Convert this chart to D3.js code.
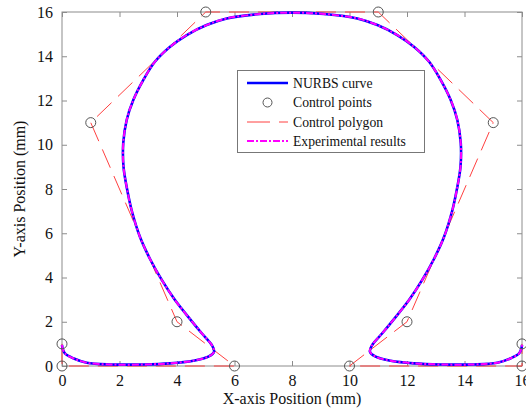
<!DOCTYPE html>
<html>
<head>
<meta charset="utf-8">
<script src="https://cdn.jsdelivr.net/npm/d3@7"></script>
<style>
  html, body { margin: 0; padding: 0; background: #fff; }
  svg { display: block; font-family: "Liberation Serif", "Times New Roman", serif; }
</style>
</head>
<body>
<svg id="chart" width="526" height="410"></svg>
<script>
// Control points of the NURBS profile (mm), in polygon order
const ctrlX = [0, 0, 6, 4, 1, 5, 11, 15, 12, 10, 16, 16];
const ctrlY = [1, 0, 0, 2, 11, 16, 16, 11, 2, 0, 0, 1];

// Sampled NURBS curve (mm)
const curveX = [0.00, 0.02, 0.10, 0.39, 0.86, 1.67, 2.83, 3.76, 4.57, 5.09, 5.29, 5.21, 4.86, 4.51, 3.93, 3.47, 3.08, 2.71, 2.42, 2.27, 2.14, 2.13, 2.25, 2.48, 2.83, 3.23, 3.76, 4.34, 5.03, 5.73, 6.89, 8.00,
                9.11, 10.27, 10.97, 11.66, 12.24, 12.77, 13.17, 13.52, 13.75, 13.87, 13.86, 13.73, 13.58, 13.29, 12.92, 12.53, 12.07, 11.49, 11.14, 10.79, 10.71, 10.91, 11.43, 12.24, 13.17, 14.33, 15.14, 15.61, 15.90, 15.98, 16.00];
const curveY = [0.95, 0.80, 0.57, 0.35, 0.15, 0.07, 0.07, 0.12, 0.24, 0.42, 0.65, 0.95, 1.48, 2.03, 2.98, 3.89, 4.79, 5.84, 7.05, 7.95, 9.00, 10.07, 11.12, 12.02, 12.93, 13.75, 14.43, 14.96, 15.41, 15.71, 15.91, 15.97,
                15.91, 15.71, 15.41, 14.96, 14.43, 13.75, 12.93, 12.02, 11.12, 10.07, 9.00, 7.95, 7.05, 5.84, 4.79, 3.89, 2.98, 2.03, 1.48, 0.95, 0.65, 0.42, 0.24, 0.12, 0.07, 0.07, 0.15, 0.35, 0.57, 0.80, 0.95];

// Measured profile from the experiment (mm)
const expX = [0.00, 0.02, 0.10, 0.39, 0.86, 1.67, 2.83, 3.76, 4.57, 5.09, 5.29, 5.21, 4.86, 4.51, 3.93, 3.47, 3.08, 2.71, 2.42, 2.27, 2.14, 2.13, 2.25, 2.48, 2.83, 3.23, 3.76, 4.34, 5.03, 5.73, 6.89, 8.00,
              9.11, 10.27, 10.97, 11.66, 12.24, 12.77, 13.17, 13.52, 13.75, 13.87, 13.86, 13.73, 13.58, 13.29, 12.92, 12.53, 12.07, 11.49, 11.14, 10.79, 10.71, 10.91, 11.43, 12.24, 13.17, 14.33, 15.14, 15.61, 15.90, 15.98, 16.00];
const expY = [0.95, 0.80, 0.57, 0.35, 0.15, 0.07, 0.07, 0.12, 0.24, 0.42, 0.65, 0.95, 1.48, 2.03, 2.98, 3.89, 4.79, 5.84, 7.05, 7.95, 9.00, 10.07, 11.12, 12.02, 12.93, 13.75, 14.43, 14.96, 15.41, 15.71, 15.91, 15.97,
              15.91, 15.71, 15.41, 14.96, 14.43, 13.75, 12.93, 12.02, 11.12, 10.07, 9.00, 7.95, 7.05, 5.84, 4.79, 3.89, 2.98, 2.03, 1.48, 0.95, 0.65, 0.42, 0.24, 0.12, 0.07, 0.07, 0.15, 0.35, 0.57, 0.80, 0.95];

const xTicks = [0, 2, 4, 6, 8, 10, 12, 14, 16];
const yTicks = [0, 2, 4, 6, 8, 10, 12, 14, 16];
const legendLabels = ["NURBS curve", "Control points", "Control polygon", "Experimental results"];

const W = 526, H = 410;
const margin = { left: 62, right: 4, top: 12, bottom: 44 };
const svg = d3.select("#chart");

const x = d3.scaleLinear().domain([0, 16]).range([margin.left, W - margin.right]);
const y = d3.scaleLinear().domain([0, 16]).range([H - margin.bottom, margin.top]);

const axisColor = "#8c8c8c";

// Axes with inward ticks, mirrored on top and right
function styleAxis(g, labels) {
  g.select(".domain").remove();
  g.selectAll(".tick line").attr("stroke", axisColor);
  g.selectAll(".tick text")
    .attr("fill", labels ? "#111" : "none")
    .style("font-size", "16px")
    .style("font-family", "'Liberation Serif', serif");
}
svg.append("g").attr("transform", `translate(0,${y(0)})`)
  .call(d3.axisBottom(x).tickValues(xTicks).tickSize(-5).tickPadding(9).tickFormat(d3.format("d")))
  .call(g => styleAxis(g, true));
svg.append("g").attr("transform", `translate(0,${y(16)})`)
  .call(d3.axisTop(x).tickValues(xTicks).tickSize(-5).tickFormat(""))
  .call(g => styleAxis(g, false));
svg.append("g").attr("transform", `translate(${x(0)},0)`)
  .call(d3.axisLeft(y).tickValues(yTicks).tickSize(-5).tickPadding(9).tickFormat(d3.format("d")))
  .call(g => styleAxis(g, true));
svg.append("g").attr("transform", `translate(${x(16)},0)`)
  .call(d3.axisRight(y).tickValues(yTicks).tickSize(-5).tickFormat(""))
  .call(g => styleAxis(g, false));

svg.append("rect")
  .attr("x", x(0)).attr("y", y(16))
  .attr("width", x(16) - x(0)).attr("height", y(0) - y(16))
  .attr("fill", "none").attr("stroke", axisColor).attr("stroke-width", 1);

// Axis titles
svg.append("text")
  .attr("x", (x(0) + x(16)) / 2).attr("y", 404)
  .attr("text-anchor", "middle").style("font-size", "16px").attr("fill", "#111")
  .text("X-axis Position (mm)");
svg.append("text")
  .attr("transform", `translate(25,${(y(0) + y(16)) / 2}) rotate(-90)`)
  .attr("text-anchor", "middle").style("font-size", "16px").attr("fill", "#111")
  .text("Y-axis Position (mm)");

const ctrl = ctrlX.map((v, i) => [v, ctrlY[i]]);
const curve = curveX.map((v, i) => [v, curveY[i]]);
const expt = expX.map((v, i) => [v, expY[i]]);

const polyLine = d3.line().x(d => x(d[0])).y(d => y(d[1]));
const smoothLine = d3.line().x(d => x(d[0])).y(d => y(d[1])).curve(d3.curveCatmullRom.alpha(0.5));

const red = "#ff4040", blue = "#0000ff", magenta = "#ff00ff", markerColor = "#555";

// Control polygon
svg.append("path").attr("d", polyLine(ctrl))
  .attr("fill", "none").attr("stroke", red).attr("stroke-width", 1)
  .attr("stroke-dasharray", "20,9");

// NURBS curve
svg.append("path").attr("d", smoothLine(curve))
  .attr("fill", "none").attr("stroke", blue).attr("stroke-width", 2.6);

// Experimental results
svg.append("path").attr("d", smoothLine(expt))
  .attr("fill", "none").attr("stroke", magenta).attr("stroke-width", 2)
  .attr("stroke-dasharray", "7,2,2,2");

// Control points
svg.append("g").selectAll("circle").data(ctrl).join("circle")
  .attr("cx", d => x(d[0])).attr("cy", d => y(d[1])).attr("r", 5)
  .attr("fill", "none").attr("stroke", markerColor).attr("stroke-width", 1);

// Legend
const lg = svg.append("g");
lg.append("rect").attr("x", 237.5).attr("y", 70.5).attr("width", 187).attr("height", 82)
  .attr("fill", "#fff").attr("stroke", "#777").attr("stroke-width", 1);
const rowY = [83, 102.5, 122, 141];
const sx0 = 247, sx1 = 288, tx = 293;
// NURBS sample
lg.append("line").attr("x1", sx0).attr("x2", sx1).attr("y1", rowY[0]).attr("y2", rowY[0])
  .attr("stroke", blue).attr("stroke-width", 2.6);
// Control point sample
lg.append("circle").attr("cx", (sx0 + sx1) / 2).attr("cy", rowY[1]).attr("r", 4.5)
  .attr("fill", "none").attr("stroke", markerColor);
// Polygon sample
lg.append("line").attr("x1", sx0).attr("x2", sx1).attr("y1", rowY[2]).attr("y2", rowY[2])
  .attr("stroke", red).attr("stroke-width", 1).attr("stroke-dasharray", "23,9");
// Experimental sample
lg.append("line").attr("x1", sx0).attr("x2", sx1).attr("y1", rowY[3]).attr("y2", rowY[3])
  .attr("stroke", magenta).attr("stroke-width", 2).attr("stroke-dasharray", "7,2,2,2");
lg.selectAll("text.lbl").data(legendLabels).join("text").attr("class", "lbl")
  .attr("x", tx).attr("y", (d, i) => rowY[i]).attr("dy", "0.35em")
  .style("font-size", "13.7px").attr("fill", "#111")
  .text(d => d);
</script>
</body>
</html>
